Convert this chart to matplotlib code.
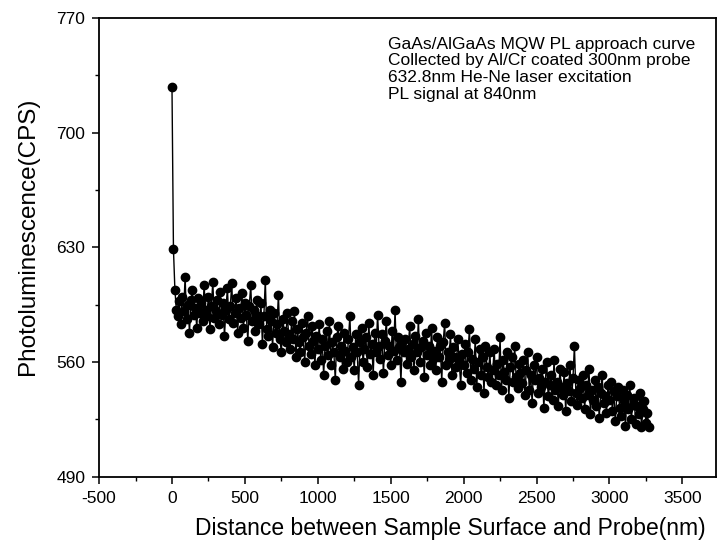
import numpy as np
import matplotlib
matplotlib.use("Agg")
import matplotlib.pyplot as plt
from matplotlib.ticker import MultipleLocator

plt.rcParams['font.family'] = ['Liberation Sans', 'DejaVu Sans']
plt.rcParams['axes.unicode_minus'] = False

# distance (nm), one reading every 10 nm
distance = np.arange(0, 3280, 10)

# photoluminescence counts, 20 readings per row (200 nm)
pl = [
    728, 629, 604, 592, 588, 597, 583, 600, 591, 612, 586, 595, 578, 598, 604, 589, 593, 581, 599, 590,
    596, 585, 607, 592, 588, 600, 580, 594, 609, 587, 591, 598, 583, 603, 589, 596, 576, 592, 605, 586,
    594, 608, 584, 590, 599, 578, 593, 587, 602, 581, 596, 589, 573, 594, 607, 585, 592, 579, 598, 588,
    583, 596, 571, 588, 610, 580, 576, 592, 585, 569, 590, 578, 583, 601, 574, 566, 586, 579, 572, 590,
    577, 568, 585, 574, 591, 563, 580, 572, 566, 584, 575, 560, 578, 588, 570, 565, 582, 573, 558, 576,
    568, 583, 561, 574, 552, 570, 579, 564, 585, 558, 572, 566, 549, 575, 582, 563, 570, 556, 578, 567,
    560, 574, 588, 563, 569, 555, 577, 566, 546, 572, 581, 560, 568, 575, 557, 584, 565, 571, 552, 578,
    566, 589, 570, 562, 577, 553, 573, 585, 564, 570, 558, 579, 567, 592, 561, 575, 569, 548, 572, 566,
    574, 559, 568, 582, 563, 571, 555, 576, 566, 586, 560, 569, 573, 551, 578, 564, 570, 558, 581, 562,
    567, 555, 575, 563, 570, 548, 572, 584, 558, 566, 561, 577, 552, 569, 563, 557, 574, 560, 546, 565,
    558, 571, 553, 566, 580, 549, 562, 556, 574, 545, 560, 568, 552, 563, 541, 570, 557, 551, 566, 548,
    555, 568, 546, 559, 552, 575, 543, 561, 554, 549, 566, 538, 557, 563, 548, 570, 551, 544, 559, 553,
    547, 561, 540, 555, 566, 543, 552, 535, 558, 549, 563, 541, 550, 545, 556, 532, 548, 560, 539, 546,
    552, 537, 561, 543, 548, 533, 556, 545, 540, 554, 530, 547, 542, 558, 536, 550, 570, 541, 534, 549,
    544, 538, 552, 531, 546, 540, 556, 528, 543, 537, 549, 533, 545, 526, 541, 552, 535, 539, 529, 546,
    537, 548, 530, 542, 524, 539, 545, 532, 527, 543, 536, 521, 540, 531, 546, 525, 534, 538, 522, 533,
    528, 541, 520, 531, 536, 523, 529, 520,
]

notes = [
    "GaAs/AlGaAs MQW PL approach curve",
    "Collected by Al/Cr coated 300nm probe",
    "632.8nm He-Ne laser excitation",
    "PL signal at 840nm",
]

fig = plt.figure(figsize=(7.18, 5.51), dpi=100)
ax = fig.add_axes([0.138, 0.135, 0.859, 0.832])

ax.plot(distance, pl, '-o', color='black', lw=1.0, ms=6)

ax.set_xlim(-500, 3730)
ax.set_ylim(490, 770)
ax.xaxis.set_major_locator(MultipleLocator(500))
ax.xaxis.set_minor_locator(MultipleLocator(250))
ax.yaxis.set_major_locator(MultipleLocator(70))
ax.yaxis.set_minor_locator(MultipleLocator(35))
ax.tick_params(which='major', direction='out', length=5, width=1.1, labelsize=12.5, pad=5)
ax.tick_params(which='minor', direction='out', length=3, width=1.0)
for s in ax.spines.values():
    s.set_linewidth(1.3)

ax.set_xlabel("Distance between Sample Surface and Probe(nm)", fontsize=16.5)
ax.set_ylabel("Photoluminescence(CPS)", fontsize=17.5)
ax.xaxis.set_label_coords(0.569, -0.088)
ax.yaxis.set_label_coords(-0.098, 0.524)

ax.text(0.468, 0.96, "\n".join(notes), transform=ax.transAxes, fontsize=12.5,
        va='top', ha='left', linespacing=1.16)

fig.savefig("out.png", dpi=100)
